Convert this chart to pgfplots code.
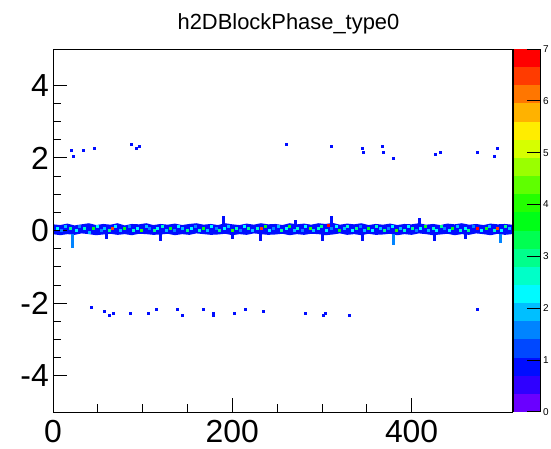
\documentclass[border=0pt]{standalone}
\usepackage{fontspec}
\setmainfont{Liberation Sans}
\usepackage{pgfplots}
\usepackage{pgfplotstable}
\pgfplotsset{compat=1.18}
\definecolor{bandblue}{RGB}{0,13,255}
\definecolor{p0}{RGB}{106,0,255}
\definecolor{p1}{RGB}{47,0,255}
\definecolor{p2}{RGB}{0,13,255}
\definecolor{p3}{RGB}{0,72,255}
\definecolor{p4}{RGB}{0,132,255}
\definecolor{p5}{RGB}{0,191,255}
\definecolor{p6}{RGB}{0,250,255}
\definecolor{p7}{RGB}{0,255,200}
\definecolor{p8}{RGB}{0,255,140}
\definecolor{p9}{RGB}{0,255,81}
\definecolor{p10}{RGB}{0,255,23}
\definecolor{p11}{RGB}{36,255,0}
\definecolor{p12}{RGB}{95,255,0}
\definecolor{p13}{RGB}{154,255,0}
\definecolor{p14}{RGB}{214,255,0}
\definecolor{p15}{RGB}{255,237,0}
\definecolor{p16}{RGB}{255,178,0}
\definecolor{p17}{RGB}{255,118,0}
\definecolor{p18}{RGB}{255,59,0}
\definecolor{p19}{RGB}{255,0,0}
\pgfplotsset{
  colormap={rootpal}{rgb255=(106,0,255) rgb255=(47,0,255) rgb255=(0,13,255) rgb255=(0,72,255) rgb255=(0,132,255) rgb255=(0,191,255) rgb255=(0,250,255) rgb255=(0,255,200) rgb255=(0,255,140) rgb255=(0,255,81) rgb255=(0,255,23) rgb255=(36,255,0) rgb255=(95,255,0) rgb255=(154,255,0) rgb255=(214,255,0) rgb255=(255,237,0) rgb255=(255,178,0) rgb255=(255,118,0) rgb255=(255,59,0) rgb255=(255,0,0) rgb255=(255,0,0)},
}

% band outline: upper edge left->right, lower edge right->left
\pgfplotstableread{
x y
0 0.17
8 0.15
16 0.19
24 0.14
32 0.17
40 0.20
48 0.15
56 0.18
64 0.16
72 0.20
80 0.14
88 0.18
96 0.17
104 0.20
112 0.15
120 0.18
128 0.16
136 0.19
144 0.15
152 0.18
160 0.20
168 0.16
176 0.18
184 0.15
192 0.20
200 0.17
208 0.15
216 0.19
224 0.16
232 0.20
240 0.17
248 0.18
256 0.15
264 0.20
272 0.17
280 0.19
288 0.16
296 0.20
304 0.18
312 0.21
320 0.16
328 0.19
336 0.17
344 0.20
352 0.15
360 0.18
368 0.16
376 0.19
384 0.15
392 0.18
400 0.17
408 0.20
416 0.16
424 0.18
432 0.15
440 0.19
448 0.17
456 0.20
464 0.16
472 0.18
480 0.15
488 0.19
496 0.17
504 0.18
512 0.16
512 -0.10
504 -0.12
496 -0.09
488 -0.13
480 -0.10
472 -0.08
464 -0.12
456 -0.10
448 -0.13
440 -0.09
432 -0.11
424 -0.13
416 -0.10
408 -0.08
400 -0.12
392 -0.10
384 -0.13
376 -0.09
368 -0.11
360 -0.12
352 -0.09
344 -0.13
336 -0.10
328 -0.12
320 -0.08
312 -0.11
304 -0.13
296 -0.10
288 -0.09
280 -0.12
272 -0.10
264 -0.13
256 -0.09
248 -0.11
240 -0.12
232 -0.10
224 -0.08
216 -0.12
208 -0.10
200 -0.13
192 -0.09
184 -0.11
176 -0.12
168 -0.10
160 -0.08
152 -0.12
144 -0.10
136 -0.13
128 -0.09
120 -0.11
112 -0.12
104 -0.10
96 -0.09
88 -0.13
80 -0.10
72 -0.12
64 -0.09
56 -0.11
48 -0.13
40 -0.10
32 -0.08
24 -0.12
16 -0.10
8 -0.13
0 -0.10
}\band

% filled cells: x, y, content
\pgfplotstableread{
x y c
5 0.05 2.1
10 0.0 1.4
14 0.1 1.75
19 0.05 2.8
26 0.0 2.1
30 0.1 1.4
35 0.05 2.45
41 -0.05 1.75
45 0.05 3.5
50 0.1 2.1
54 0.0 1.4
58 0.05 1.75
63 0.0 2.8
66 0.05 6.3
70 0.1 2.1
75 0.0 1.75
80 0.05 3.5
85 0.1 1.4
90 0.0 2.45
94 0.05 2.1
99 0.0 3.85
104 0.1 1.75
108 0.05 1.4
113 0.0 2.8
117 0.05 2.1
122 0.1 2.45
127 0.0 1.75
131 0.05 3.5
136 0.0 1.4
140 0.1 2.1
145 0.05 1.75
150 0.0 2.8
154 0.05 2.1
159 0.1 1.4
163 0.0 2.45
168 0.05 3.5
172 0.0 1.75
177 0.1 2.1
182 0.05 1.4
186 0.0 2.8
191 0.05 2.1
196 0.1 1.75
200 0.0 3.85
205 0.05 2.45
209 0.0 1.4
214 0.1 2.1
218 0.05 2.8
223 0.0 1.75
228 0.05 2.45
233 0.05 6.3
237 0.1 3.5
242 0.0 2.1
246 0.05 1.4
251 0.1 1.75
255 0.0 2.8
260 0.05 2.1
264 0.1 3.5
269 0.0 1.75
273 0.05 2.45
278 0.0 1.4
282 0.1 2.1
287 0.05 3.85
291 0.0 1.75
296 0.05 2.45
300 0.1 2.8
305 0.0 2.1
307 0.15 6.65
311 0.05 1.4
316 0.1 2.1
320 0.0 3.5
325 0.05 1.75
329 0.1 2.45
334 0.0 2.1
338 0.05 2.8
343 0.1 1.4
347 0.0 1.75
352 0.05 3.5
356 0.0 2.1
361 0.1 2.45
365 0.05 1.75
370 0.0 2.8
374 0.05 1.4
379 0.1 2.1
383 0.0 3.85
388 0.05 1.75
392 0.0 2.45
397 0.1 2.1
401 0.05 2.8
406 0.0 1.4
410 0.05 2.1
415 0.1 3.5
419 0.0 1.75
424 0.05 2.45
428 0.0 2.1
433 0.1 2.8
437 0.05 1.4
442 0.0 2.1
446 0.05 3.5
451 0.1 1.75
455 0.0 2.45
460 0.05 2.1
464 0.0 2.8
469 0.1 1.4
474 0.05 6.65
478 0.0 2.1
483 0.05 3.5
487 0.1 1.75
492 0.0 2.45
496 0.05 6.3
500 0.0 2.1
505 0.1 2.8
509 0.05 1.75
22 -0.15 1.4
22 -0.20 1.4
22 -0.25 1.4
22 -0.30 1.4
22 -0.35 1.4
22 -0.40 1.4
22 -0.45 1.4
60 -0.15 0.7
60 -0.20 0.7
120 -0.15 0.7
120 -0.20 0.7
120 -0.25 0.7
190 0.20 0.7
190 0.25 0.7
190 0.30 0.7
190 0.35 0.7
200 -0.15 0.7
200 -0.20 0.7
232 -0.15 0.7
232 -0.20 0.7
232 -0.25 0.7
270 0.20 0.7
270 0.25 0.7
301 -0.15 0.7
301 -0.20 0.7
301 -0.25 0.7
311 0.20 0.7
311 0.25 0.7
311 0.30 0.7
311 0.35 0.7
345 -0.15 0.7
345 -0.20 0.7
345 -0.25 0.7
380 -0.15 1.4
380 -0.20 1.4
380 -0.25 1.4
380 -0.30 1.4
380 -0.35 1.4
409 0.20 0.7
409 0.25 0.7
409 0.30 0.7
426 -0.15 0.7
426 -0.20 0.7
426 -0.25 0.7
460 -0.15 0.7
460 -0.20 0.7
499 -0.15 1.4
499 -0.20 1.4
499 -0.25 1.4
499 -0.30 1.4
21 2.21 0.7
23 2.04 0.7
34 2.20 0.7
46 2.26 0.7
88 2.38 0.7
93 2.27 0.7
97 2.32 0.7
260 2.38 0.7
311 2.32 0.7
345 2.27 0.7
346 2.16 0.7
367 2.32 0.7
369 2.16 0.7
380 1.99 0.7
427 2.10 0.7
432 2.16 0.7
474 2.16 0.7
492 2.04 0.7
496 2.27 0.7
43 -2.13 0.7
57 -2.22 0.7
63 -2.33 0.7
68 -2.28 0.7
86 -2.28 0.7
106 -2.28 0.7
115 -2.17 0.7
139 -2.17 0.7
144 -2.33 0.7
168 -2.17 0.7
179 -2.28 0.7
179 -2.33 0.7
202 -2.28 0.7
215 -2.17 0.7
235 -2.22 0.7
282 -2.28 0.7
302 -2.33 0.7
304 -2.28 0.7
331 -2.33 0.7
474 -2.17 0.7
}\cells

\begin{document}
\begin{tikzpicture}
\path[use as bounding box] (-53bp,-37bp) rectangle (498bp,412bp);
\begin{axis}[
  at={(0,0)}, anchor=south west,
  scale only axis, width=459bp, height=363bp,
  xmin=0, xmax=512, ymin=-5, ymax=5,
  axis on top,
  xtick={0,200,400}, ytick={-4,-2,0,2,4},
  minor x tick num=3, minor y tick num=3,
  tick align=inside, xtick pos=bottom, ytick pos=left,
  major tick length=14bp, minor tick length=7.5bp,
  tick style={black, line width=0.8bp},
  axis line style={line width=0.8bp},
  /pgf/number format/assume math mode=true,
  ticklabel style={font=\fontsize{32}{32}\selectfont, inner sep=0pt},
  xticklabel style={yshift=-8bp},
  yticklabel style={xshift=-4bp},
  colormap name=rootpal,
  point meta min=0, point meta max=7,
  title={h2DBlockPhase\_type0},
  title style={at={(0.5,1)}, anchor=center, yshift=19bp, xshift=6bp, font=\fontsize{22}{22}\selectfont},
]
\addplot[fill=bandblue, draw=none] table[x=x, y=y] {\band} -- cycle;
\addplot[scatter, only marks, mark=square*, mark size=1bp,
  scatter/use mapped color={draw=mapped color, fill=mapped color},
  mark options={line width=0pt},
  point meta=explicit] table[x=x, y=y, meta=c] {\cells};
\end{axis}
\begin{axis}[
  at={(460bp,0bp)}, anchor=south west,
  scale only axis, width=27bp, height=363bp,
  xmin=0, xmax=1, ymin=0, ymax=7,
  axis on top,
  hide x axis,
  axis line style={line width=0.8bp},
  xtick=\empty, ytick={0,1,2,3,4,5,6,7},
  ytick pos=right, yticklabel pos=right,
  tick align=inside, major tick length=13bp,
  ytick style={draw=black, line width=1bp},
  /pgf/number format/assume math mode=true,
  yticklabel style={font=\fontsize{10}{10}\selectfont, inner sep=0pt, xshift=3bp},
]
\addplot[fill=p0, draw=none] coordinates {(0,0) (1,0) (1,0.35) (0,0.35)} -- cycle;
\addplot[fill=p1, draw=none] coordinates {(0,0.35) (1,0.35) (1,0.7) (0,0.7)} -- cycle;
\addplot[fill=p2, draw=none] coordinates {(0,0.7) (1,0.7) (1,1.05) (0,1.05)} -- cycle;
\addplot[fill=p3, draw=none] coordinates {(0,1.05) (1,1.05) (1,1.4) (0,1.4)} -- cycle;
\addplot[fill=p4, draw=none] coordinates {(0,1.4) (1,1.4) (1,1.75) (0,1.75)} -- cycle;
\addplot[fill=p5, draw=none] coordinates {(0,1.75) (1,1.75) (1,2.1) (0,2.1)} -- cycle;
\addplot[fill=p6, draw=none] coordinates {(0,2.1) (1,2.1) (1,2.45) (0,2.45)} -- cycle;
\addplot[fill=p7, draw=none] coordinates {(0,2.45) (1,2.45) (1,2.8) (0,2.8)} -- cycle;
\addplot[fill=p8, draw=none] coordinates {(0,2.8) (1,2.8) (1,3.15) (0,3.15)} -- cycle;
\addplot[fill=p9, draw=none] coordinates {(0,3.15) (1,3.15) (1,3.5) (0,3.5)} -- cycle;
\addplot[fill=p10, draw=none] coordinates {(0,3.5) (1,3.5) (1,3.85) (0,3.85)} -- cycle;
\addplot[fill=p11, draw=none] coordinates {(0,3.85) (1,3.85) (1,4.2) (0,4.2)} -- cycle;
\addplot[fill=p12, draw=none] coordinates {(0,4.2) (1,4.2) (1,4.55) (0,4.55)} -- cycle;
\addplot[fill=p13, draw=none] coordinates {(0,4.55) (1,4.55) (1,4.9) (0,4.9)} -- cycle;
\addplot[fill=p14, draw=none] coordinates {(0,4.9) (1,4.9) (1,5.25) (0,5.25)} -- cycle;
\addplot[fill=p15, draw=none] coordinates {(0,5.25) (1,5.25) (1,5.6) (0,5.6)} -- cycle;
\addplot[fill=p16, draw=none] coordinates {(0,5.6) (1,5.6) (1,5.95) (0,5.95)} -- cycle;
\addplot[fill=p17, draw=none] coordinates {(0,5.95) (1,5.95) (1,6.3) (0,6.3)} -- cycle;
\addplot[fill=p18, draw=none] coordinates {(0,6.3) (1,6.3) (1,6.65) (0,6.65)} -- cycle;
\addplot[fill=p19, draw=none] coordinates {(0,6.65) (1,6.65) (1,7) (0,7)} -- cycle;
\end{axis}
\end{tikzpicture}
\end{document}
